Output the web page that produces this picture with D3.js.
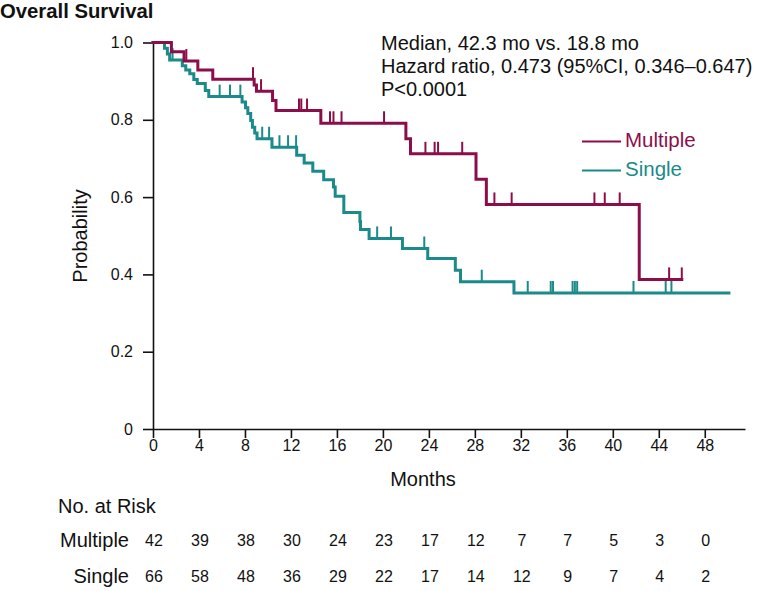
<!DOCTYPE html>
<html>
<head>
<meta charset="utf-8">
<script src="https://cdn.jsdelivr.net/npm/d3@7"></script>
<style>
  html, body { margin: 0; padding: 0; background: #fff; }
  svg { display: block; font-family: "Liberation Sans", Arial, Helvetica, sans-serif; }
</style>
</head>
<body>
<svg id="chart" width="759" height="591"></svg>
<script>
// ---------------- data ----------------
const monthTicks = [0, 4, 8, 12, 16, 20, 24, 28, 32, 36, 40, 44, 48];
const probTicks = [0, 0.2, 0.4, 0.6, 0.8, 1.0];

const multipleTimes = [0, 1.6, 2.7, 3.9, 5.2, 8.8, 9.0, 10.4, 10.7, 14.6, 22.0, 22.4, 28.1, 29.0, 42.3];
const multipleSurv  = [1.0, 0.976, 0.952, 0.929, 0.905, 0.89, 0.874, 0.850, 0.824, 0.791, 0.751, 0.712, 0.646, 0.581, 0.387];
const multipleCensor = [2.9, 8.7, 9.4, 12.7, 12.9, 13.4, 15.4, 15.7, 16.4, 20.1, 23.7, 24.5, 24.8, 26.9, 29.7, 31.2, 38.4, 39.3, 40.6, 44.9, 46.0];
const multipleEnd = 46.0;

const singleTimes = [0, 1.0, 1.25, 1.45, 2.55, 2.85, 3.2, 3.55, 3.85, 4.55, 4.85, 7.75, 8.05, 8.25, 8.5, 8.65, 8.85, 9.05, 10.35, 12.5, 13.15, 13.9, 14.85, 15.7, 15.85, 16.6, 18.0, 18.05, 18.8, 21.7, 23.9, 26.3, 26.75, 31.4];
const singleSurv  = [1.0, 0.985, 0.970, 0.955, 0.940, 0.929, 0.919, 0.904, 0.894, 0.876, 0.860, 0.846, 0.831, 0.816, 0.798, 0.781, 0.766, 0.751, 0.729, 0.708, 0.688, 0.667, 0.645, 0.626, 0.602, 0.560, 0.536, 0.516, 0.493, 0.467, 0.441, 0.411, 0.381, 0.352];
const singleCensor = [1.7, 5.8, 6.7, 7.6, 9.5, 10.1, 11.0, 11.75, 12.45, 19.5, 20.7, 23.6, 28.6, 32.6, 34.6, 34.8, 36.5, 36.7, 36.9, 41.8, 44.6, 45.1];
const singleEnd = 50.1;

const groupNames = ["Multiple", "Single"];
const riskMultiple = [42, 39, 38, 30, 24, 23, 17, 12, 7, 7, 5, 3, 0];
const riskSingle   = [66, 58, 48, 36, 29, 22, 17, 14, 12, 9, 7, 4, 2];

const annotationLines = [
  "Median, 42.3 mo vs. 18.8 mo",
  "Hazard ratio, 0.473 (95%CI, 0.346\u20130.647)",
  "P<0.0001"
];

// ---------------- drawing ----------------
const colMultiple = "#8b0e4a";
const colSingle = "#1a8a8a";

const svg = d3.select("#chart");
const x = d3.scaleLinear().domain([0, 51.5]).range([153, 745]);
const y = d3.scaleLinear().domain([0, 1]).range([429, 42.5]);

// title
svg.append("text").attr("x", 0).attr("y", 17.5)
  .attr("font-size", 20.3).attr("font-weight", "bold").attr("fill", "#111")
  .text("Overall Survival");

// axes
const yAxis = d3.axisLeft(y).tickValues(probTicks)
  .tickFormat(d => d === 0 ? "0" : d3.format(".1f")(d))
  .tickSize(10).tickSizeOuter(0).tickPadding(10);
const gy = svg.append("g").attr("transform", `translate(${x(0)},0)`).call(yAxis);

const xAxis = d3.axisBottom(x).tickValues(monthTicks)
  .tickSize(9).tickSizeOuter(0).tickPadding(2);
const gx = svg.append("g").attr("transform", `translate(0,${y(0)})`).call(xAxis);

[gx, gy].forEach(g => {
  g.select(".domain").attr("stroke", "#111").attr("stroke-width", 1.6);
  g.selectAll(".tick line").attr("stroke", "#111").attr("stroke-width", 1.6);
  g.selectAll(".tick text").attr("font-size", 16).attr("fill", "#111")
    .attr("font-family", "Liberation Sans, Arial, sans-serif");
});

svg.append("text")
  .attr("transform", `translate(87,236) rotate(-90)`)
  .attr("text-anchor", "middle").attr("font-size", 20).attr("fill", "#111")
  .text("Probability");
svg.append("text").attr("x", 423).attr("y", 486)
  .attr("text-anchor", "middle").attr("font-size", 20).attr("fill", "#111")
  .text("Months");

// survival curves
function survAt(times, surv, t) {
  let s = surv[0];
  for (let i = 0; i < times.length; i++) if (times[i] <= t) s = surv[i];
  return s;
}
const line = d3.line().x(d => x(d[0])).y(d => y(d[1])).curve(d3.curveStepAfter);

function drawCurve(times, surv, censor, end, color) {
  const pts = times.map((t, i) => [t, surv[i]]);
  pts.push([end, surv[surv.length - 1]]);
  svg.append("path").datum(pts)
    .attr("d", line).attr("fill", "none")
    .attr("stroke", color).attr("stroke-width", 3)
    .attr("stroke-linejoin", "miter").attr("stroke-linecap", "square");
  svg.append("g").selectAll("line").data(censor).join("line")
    .attr("x1", d => x(d)).attr("x2", d => x(d))
    .attr("y1", d => y(survAt(times, surv, d)))
    .attr("y2", d => y(survAt(times, surv, d)) - 12)
    .attr("stroke", color).attr("stroke-width", 2);
}
drawCurve(singleTimes, singleSurv, singleCensor, singleEnd, colSingle);
drawCurve(multipleTimes, multipleSurv, multipleCensor, multipleEnd, colMultiple);

// annotation
svg.append("g").selectAll("text").data(annotationLines).join("text")
  .attr("x", 381).attr("y", (d, i) => 50 + i * 23)
  .attr("font-size", 20).attr("fill", "#111")
  .text(d => d);

// legend
const legendColors = [colMultiple, colSingle];
const lg = svg.append("g");
groupNames.forEach((name, i) => {
  const yy = 141.5 + i * 29;
  lg.append("line").attr("x1", 582).attr("x2", 621).attr("y1", yy).attr("y2", yy)
    .attr("stroke", legendColors[i]).attr("stroke-width", 2);
  lg.append("text").attr("x", 625).attr("y", yy + 5.5)
    .attr("font-size", 20.5).attr("fill", legendColors[i]).text(name);
});

// risk table
svg.append("text").attr("x", 58).attr("y", 513)
  .attr("font-size", 20).attr("fill", "#111").text("No. at Risk");
const riskRows = [riskMultiple, riskSingle];
riskRows.forEach((row, r) => {
  const by = 547 + r * 36;
  svg.append("text").attr("x", 129).attr("y", by).attr("text-anchor", "end")
    .attr("font-size", 20).attr("fill", "#111").text(groupNames[r]);
  svg.append("g").selectAll("text").data(row).join("text")
    .attr("x", (d, i) => x(monthTicks[i]) + 1).attr("y", by - 1)
    .attr("text-anchor", "middle").attr("font-size", 16).attr("fill", "#111")
    .text(d => d);
});
</script>
</body>
</html>
